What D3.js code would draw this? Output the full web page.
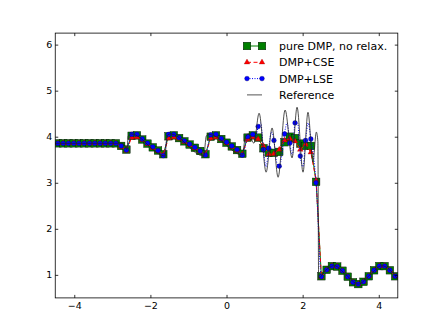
<!DOCTYPE html>
<html>
<head>
<meta charset="utf-8">
<script src="https://cdn.jsdelivr.net/npm/d3@7"></script>
<style>
  body { margin: 0; background: #fff; }
  text { font-family: "DejaVu Sans", sans-serif; fill: #000; }
</style>
</head>
<body>
<div id="chart"></div>
<script>
// coarse grid cell centres
const cellX = [-4.431, -4.292, -4.154, -4.015, -3.877, -3.738, -3.600, -3.462, -3.323, -3.185,
  -3.046, -2.908, -2.769, -2.631, -2.492, -2.354, -2.215, -2.077, -1.938, -1.800,
  -1.662, -1.523, -1.385, -1.246, -1.108, -0.969, -0.831, -0.692, -0.554, -0.415,
  -0.277, -0.138, 0.000, 0.138, 0.277, 0.415, 0.554, 0.692, 0.831, 0.969,
  1.108, 1.246, 1.385, 1.523, 1.662, 1.800, 1.938, 2.077, 2.215, 2.354,
  2.492, 2.631, 2.769, 2.908, 3.046, 3.185, 3.323, 3.462, 3.600, 3.738,
  3.877, 4.015, 4.154, 4.292, 4.431];

const dmpY = [3.857, 3.857, 3.857, 3.857, 3.857, 3.857, 3.857, 3.857, 3.857, 3.857,
  3.857, 3.857, 3.80, 3.72, 4.02, 4.03, 3.94, 3.85, 3.77, 3.70,
  3.62, 4.01, 4.03, 3.97, 3.90, 3.83, 3.76, 3.69, 3.62, 4.00,
  4.03, 3.95, 3.87, 3.79, 3.71, 3.63, 3.98, 4.03, 3.98, 3.75,
  3.65, 3.65, 3.67, 3.88, 4.00, 3.97, 3.85, 3.80, 3.80, 3.02,
  0.97, 1.11, 1.19, 1.18, 1.09, 0.96, 0.84, 0.80, 0.85, 0.97,
  1.10, 1.19, 1.19, 1.10, 0.97];

const cseY = [3.857, 3.857, 3.857, 3.857, 3.857, 3.857, 3.857, 3.857, 3.857, 3.857,
  3.857, 3.857, 3.78, 3.70, 3.98, 3.99, 3.93, 3.84, 3.76, 3.69,
  3.61, 3.97, 3.99, 3.96, 3.89, 3.82, 3.75, 3.68, 3.61, 3.97,
  3.99, 3.94, 3.86, 3.78, 3.70, 3.62, 3.95, 3.99, 3.95, 3.80,
  3.62, 3.63, 3.72, 3.92, 3.96, 3.90, 3.72, 3.84, 3.66, 3.05,
  0.95, 1.11, 1.19, 1.18, 1.09, 0.96, 0.84, 0.80, 0.85, 0.97,
  1.10, 1.19, 1.19, 1.10, 0.97];

const lseY = [3.857, 3.857, 3.857, 3.857, 3.857, 3.857, 3.857, 3.857, 3.857, 3.857,
  3.857, 3.857, 3.80, 3.71, 4.05, 4.05, 3.95, 3.86, 3.78, 3.70,
  3.59, 4.05, 4.05, 3.98, 3.91, 3.84, 3.77, 3.69, 3.60, 4.04,
  4.05, 3.96, 3.88, 3.80, 3.72, 3.60, 4.00, 4.05, 4.22, 3.72,
  3.75, 3.92, 3.36, 4.06, 3.86, 4.30, 3.58, 3.92, 3.95, 3.00,
  0.96, 1.11, 1.19, 1.18, 1.09, 0.96, 0.84, 0.80, 0.85, 0.97,
  1.10, 1.19, 1.19, 1.10, 0.97];

// extra LSE line samples between cells in the oscillating zone
const lseMidX = [0.623, 0.761, 0.900, 1.038, 1.177, 1.315, 1.454, 1.592, 1.731, 1.869, 2.008, 2.146, 2.284];
const lseMidY = [4.05, 3.95, 4.30, 3.35, 4.10, 3.45, 3.60, 4.30, 3.60, 4.30, 3.35, 4.30, 3.60];

// reference solution (fine grid), read at its turning points
const refX = [-4.5, -2.75, -2.68, -2.62, -2.58, -2.50, -1.62, -1.56, -1.47, -0.60, -0.53, -0.45,
  0.42, 0.49, 0.58, 0.72, 0.856, 1.04, 1.197, 1.355, 1.539, 1.722, 1.853, 2.01, 2.14, 2.27,
  2.36, 2.40, 2.42, 2.60, 2.83, 3.14, 3.46, 3.77, 4.08, 4.30, 4.5];
const refY = [3.857, 3.857, 3.82, 3.72, 4.02, 4.06, 3.58, 4.03, 4.06, 3.58, 4.02, 4.05,
  3.60, 3.98, 4.06, 3.86, 4.51, 3.23, 4.19, 3.12, 4.58, 3.54, 4.64, 3.23, 4.53, 3.45,
  4.10, 3.90, 0.93, 1.10, 1.20, 1.00, 0.80, 1.00, 1.20, 1.10, 0.90];

const xTicks = [-4, -2, 0, 2, 4];
const yTicks = [1, 2, 3, 4, 5, 6];

const width = 442, height = 331;
const margin = { top: 33.1, right: 44.2, bottom: 33.1, left: 55.25 };

const svg = d3.select("#chart")
  .append("svg")
  .attr("width", width)
  .attr("height", height);

const x = d3.scaleLinear()
  .domain([-4.5, 4.5])
  .range([margin.left, width - margin.right]);

const y = d3.scaleLinear()
  .domain([0.5, 6.25])
  .range([height - margin.bottom, margin.top]);

svg.append("clipPath")
  .attr("id", "plot-clip")
  .append("rect")
  .attr("x", margin.left)
  .attr("y", margin.top)
  .attr("width", width - margin.left - margin.right)
  .attr("height", height - margin.top - margin.bottom);

const plot = svg.append("g").attr("clip-path", "url(#plot-clip)");

const toPts = ys => ys.map((v, i) => ({ x: cellX[i], y: v }));
const dmp = toPts(dmpY);
const cse = toPts(cseY);
const lse = toPts(lseY);
const lseLine = lse.concat(lseMidX.map((v, i) => ({ x: v, y: lseMidY[i] })))
  .sort((a, b) => a.x - b.x);
const ref = refX.map((v, i) => ({ x: v, y: refY[i] }));

const line = d3.line().x(d => x(d.x)).y(d => y(d.y));
const smooth = d3.line().x(d => x(d.x)).y(d => y(d.y)).curve(d3.curveMonotoneX);

// pure DMP
plot.append("path")
  .datum(dmp)
  .attr("fill", "none")
  .attr("stroke", "#008000")
  .attr("stroke-width", 1)
  .attr("d", line);
plot.selectAll("rect.dmp")
  .data(dmp)
  .enter()
  .append("rect")
  .attr("class", "dmp")
  .attr("x", d => x(d.x) - 3.8)
  .attr("y", d => y(d.y) - 3.8)
  .attr("width", 7.6)
  .attr("height", 7.6)
  .attr("fill", "#008000")
  .attr("stroke", "#000")
  .attr("stroke-width", 0.4);

// DMP+CSE
plot.append("path")
  .datum(cse)
  .attr("fill", "none")
  .attr("stroke", "#ff0000")
  .attr("stroke-width", 1)
  .attr("stroke-dasharray", "4,2.5")
  .attr("d", line);
const tri = d3.symbol().type(d3.symbolTriangle).size(14);
plot.selectAll("path.cse")
  .data(cse)
  .enter()
  .append("path")
  .attr("class", "cse")
  .attr("transform", d => `translate(${x(d.x)},${y(d.y)})`)
  .attr("d", tri)
  .attr("fill", "#ff0000")
  .attr("stroke", "#800000")
  .attr("stroke-width", 0.3);

// DMP+LSE
plot.append("path")
  .datum(lseLine)
  .attr("fill", "none")
  .attr("stroke", "#0000ff")
  .attr("stroke-width", 1)
  .attr("stroke-dasharray", "1,1.5")
  .attr("d", smooth);
plot.selectAll("circle.lse")
  .data(lse)
  .enter()
  .append("circle")
  .attr("class", "lse")
  .attr("cx", d => x(d.x))
  .attr("cy", d => y(d.y))
  .attr("r", 2.4)
  .attr("fill", "#0000ff")
  .attr("stroke", "#000040")
  .attr("stroke-width", 0.3);

// Reference
plot.append("path")
  .datum(ref)
  .attr("fill", "none")
  .attr("stroke", "#222")
  .attr("stroke-width", 0.8)
  .attr("d", smooth);

// axes, classic inward ticks on all four sides
const axBottom = svg.append("g")
  .attr("transform", `translate(0,${height - margin.bottom})`)
  .call(d3.axisBottom(x).tickValues(xTicks).tickSize(-3).tickPadding(4));
const axTop = svg.append("g")
  .attr("transform", `translate(0,${margin.top})`)
  .call(d3.axisTop(x).tickValues(xTicks).tickSize(-3).tickFormat(""));
const axLeft = svg.append("g")
  .attr("transform", `translate(${margin.left},0)`)
  .call(d3.axisLeft(y).tickValues(yTicks).tickSize(-3).tickPadding(3).tickFormat(d3.format("d")));
const axRight = svg.append("g")
  .attr("transform", `translate(${width - margin.right},0)`)
  .call(d3.axisRight(y).tickValues(yTicks).tickSize(-3).tickFormat(""));

[axBottom, axTop, axLeft, axRight].forEach(g => {
  g.select(".domain").remove();
  g.selectAll("line").attr("stroke", "#000").attr("stroke-width", 0.8);
  g.selectAll("text").attr("font-size", 9.5).attr("font-family", "DejaVu Sans");
});

svg.append("rect")
  .attr("x", margin.left)
  .attr("y", margin.top)
  .attr("width", width - margin.left - margin.right)
  .attr("height", height - margin.top - margin.bottom)
  .attr("fill", "none")
  .attr("stroke", "#000")
  .attr("stroke-width", 0.8);

// Legend
const legendData = [
  { label: "pure DMP, no relax.", key: "dmp" },
  { label: "DMP+CSE", key: "cse" },
  { label: "DMP+LSE", key: "lse" },
  { label: "Reference", key: "ref" }
];

const legend = svg.append("g")
  .attr("class", "legend")
  .attr("transform", "translate(247,46)");

legend.selectAll("g")
  .data(legendData)
  .enter()
  .append("g")
  .attr("transform", (d, i) => `translate(0,${i * 16.3})`)
  .each(function(d) {
    const g = d3.select(this);
    const ln = g.append("line")
      .attr("x1", 0).attr("x2", 15)
      .attr("y1", 0).attr("y2", 0)
      .attr("stroke-width", 1);
    if (d.key === "dmp") {
      ln.attr("stroke", "#008000");
      [0, 15].forEach(px => g.append("rect")
        .attr("x", px - 3.8).attr("y", -3.8)
        .attr("width", 7.6).attr("height", 7.6)
        .attr("fill", "#008000").attr("stroke", "#000").attr("stroke-width", 0.4));
    } else if (d.key === "cse") {
      ln.attr("stroke", "#ff0000").attr("stroke-dasharray", "4,2.5");
      [0, 15].forEach(px => g.append("path")
        .attr("transform", `translate(${px},0)`)
        .attr("d", tri)
        .attr("fill", "#ff0000").attr("stroke", "#800000").attr("stroke-width", 0.3));
    } else if (d.key === "lse") {
      ln.attr("stroke", "#0000ff").attr("stroke-dasharray", "1,1.5");
      [0, 15].forEach(px => g.append("circle")
        .attr("cx", px).attr("cy", 0).attr("r", 2.4)
        .attr("fill", "#0000ff").attr("stroke", "#000040").attr("stroke-width", 0.3));
    } else {
      ln.attr("stroke", "#555").attr("stroke-width", 1);
    }
    g.append("text")
      .attr("x", 32)
      .attr("y", 4)
      .attr("font-size", 11)
      .text(d.label);
  });
</script>
</body>
</html>
